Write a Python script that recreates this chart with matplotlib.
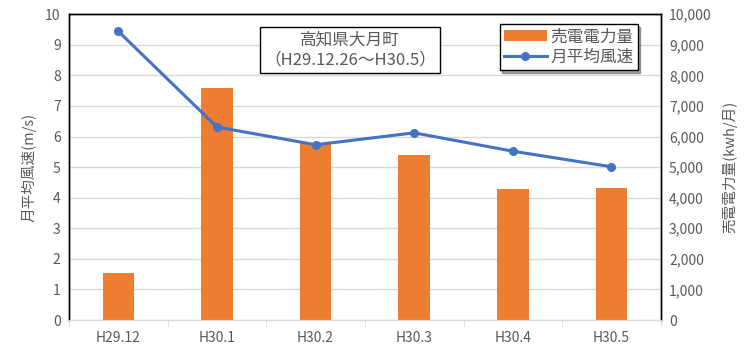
import matplotlib.pyplot as plt
import numpy as np

plt.rcParams['font.family'] = ['Noto Sans CJK JP', 'DejaVu Sans']

# データ
months = ['H29.12', 'H30.1', 'H30.2', 'H30.3', 'H30.4', 'H30.5']
power_kwh = [1540, 7600, 5800, 5390, 4270, 4300]   # 売電電力量
wind_ms = [9.44, 6.31, 5.73, 6.12, 5.52, 5.01]      # 月平均風速

gray = '#595959'
x = np.arange(len(months))

fig = plt.figure(figsize=(7.5, 3.54), dpi=100)
ax = fig.add_axes([0.092, 0.096, 0.789, 0.864])
ax2 = ax.twinx()

bars = ax2.bar(x, power_kwh, width=0.32, color='#ED7D31', label='売電電力量', zorder=2)
line, = ax.plot(x, wind_ms, color='#4472C4', lw=2.2, marker='o', ms=5.5, label='月平均風速')

ax.set_zorder(ax2.get_zorder() + 1)
ax.patch.set_visible(False)

ax.set_xlim(-0.5, len(months) - 0.5)
ax.set_ylim(0, 10)
ax2.set_ylim(0, 10000)
ax.set_yticks(range(0, 11))
ax2.set_yticks(range(0, 10001, 1000))
ax2.set_yticklabels([f'{v:,}' for v in range(0, 10001, 1000)])
ax.set_xticks(x)
ax.set_xticklabels(months)
ax.set_xticks(np.arange(-0.5, len(months)), minor=True)

ax2.grid(axis='y', color='#D9D9D9', lw=1, zorder=0)
ax2.set_axisbelow(True)

for a in (ax, ax2):
    a.tick_params(axis='y', length=0, colors=gray, labelsize=10, pad=6)
    for s in ('left', 'right', 'top'):
        a.spines[s].set_color('black')
        a.spines[s].set_linewidth(1)
    a.spines['bottom'].set_color('#D9D9D9')
ax.tick_params(axis='x', which='major', length=0, colors=gray, labelsize=10, pad=8)
ax.tick_params(axis='x', which='minor', length=5, color='#D9D9D9')

ax.set_ylabel('月平均風速(m/s)', color=gray, fontsize=10.5, labelpad=6)
ax2.set_ylabel('売電電力量(kwh/月)', color=gray, fontsize=10.5, labelpad=8)

ax.text(0.475, 0.882, '高知県大月町\n（H29.12.26～H30.5）', transform=ax.transAxes,
        ha='center', va='center', fontsize=12, color=gray, linespacing=1.25,
        bbox=dict(boxstyle='square,pad=0.25', fc='white', ec='black', lw=1))

leg = ax.legend([bars, line], ['売電電力量', '月平均風速'], loc='upper right',
                bbox_to_anchor=(0.961, 0.967), borderaxespad=0, fontsize=12,
                frameon=True, fancybox=False, shadow=True, handlelength=2.6,
                borderpad=0.25, labelspacing=0.2, handletextpad=0.2,
                labelcolor=gray)
leg.get_frame().set_edgecolor('black')

fig.savefig('out.png', dpi=100)
